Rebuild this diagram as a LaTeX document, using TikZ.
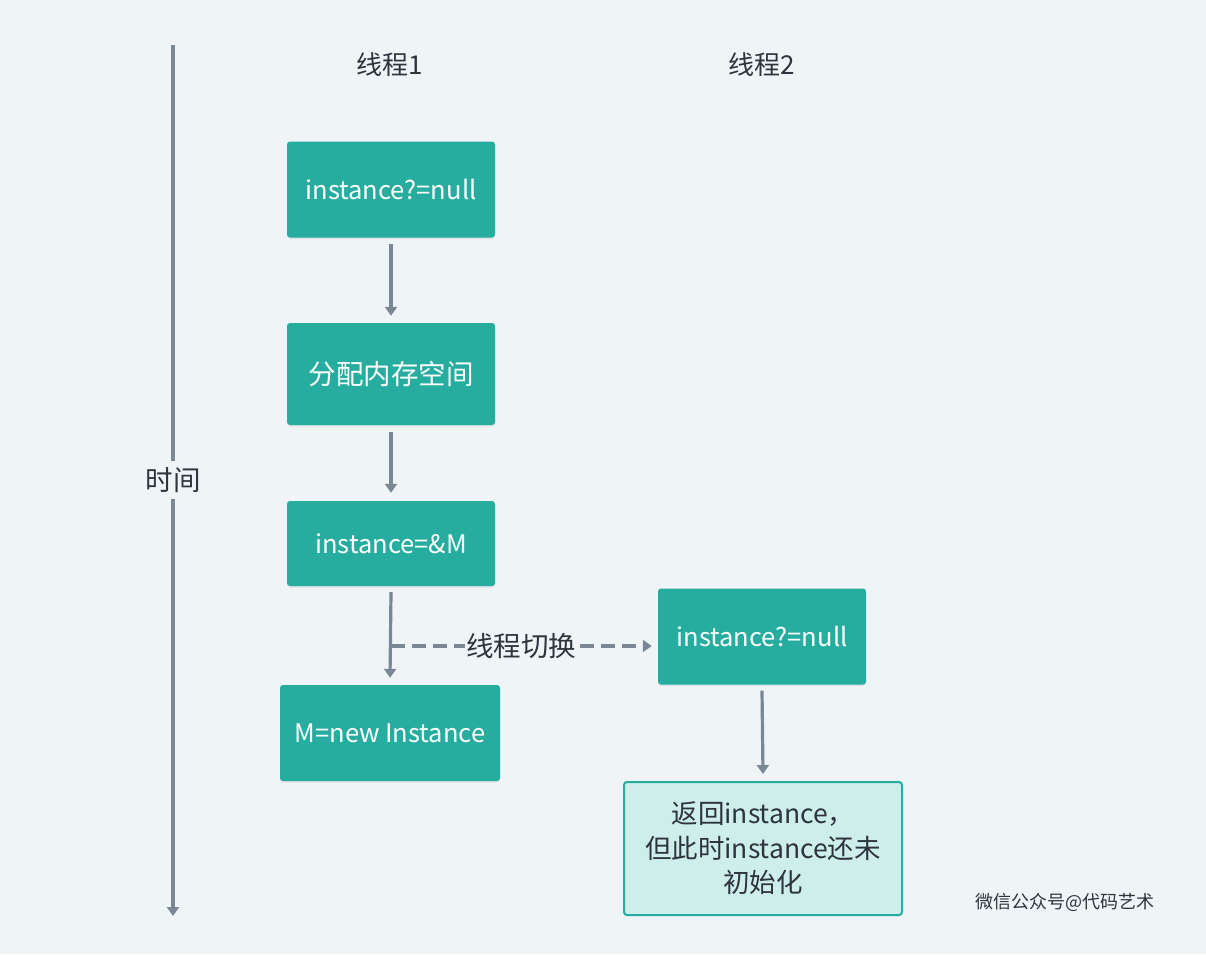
\documentclass[tikz,border=0pt]{standalone}
\usepackage{fontspec}
\setmainfont{Noto Sans CJK SC}
\usetikzlibrary{arrows.meta,shadows}
\definecolor{bg}{RGB}{239,244,247}
\definecolor{teal}{RGB}{38,173,159}
\definecolor{lightteal}{RGB}{206,238,236}
\definecolor{gline}{RGB}{122,136,150}
\definecolor{txt}{RGB}{45,52,60}
\tikzset{
  box/.style={draw=none,fill=teal,rounded corners=3pt,text=white,font=\fontsize{25.5}{30}\selectfont,inner sep=0pt,minimum width=208pt,minimum height=96pt,drop shadow={shadow xshift=0pt,shadow yshift=-1.5pt,opacity=0.15}},
  resbox/.style={draw=teal,line width=2pt,fill=lightteal,rounded corners=3pt,text=txt,font=\fontsize{26.5}{34.5}\selectfont,align=center,inner sep=0pt,minimum width=278pt,minimum height=133pt},
  conn/.style={draw=gline,line width=3.2pt,-{Triangle[width=12pt,length=9pt]}},
  dconn/.style={draw=gline,line width=3.2pt,dash pattern=on 14pt off 7pt,-{Triangle[width=12pt,length=9pt]}},
  lbl/.style={text=txt,font=\fontsize{26}{30}\selectfont,inner sep=0pt},
}
\begin{document}
\begin{tikzpicture}[x=1pt,y=-1pt]
\fill[bg] (0,0) rectangle (1206,954);
\useasboundingbox (0,0) rectangle (1206,954);
% time axis
\node[lbl,font=\fontsize{27.5}{30}\selectfont] (time) at (173,480) {时间};
\coordinate (ttop) at (173,45);
\coordinate (tbot) at (173,916);
\draw[gline,line width=3.2pt] (ttop) -- (173,461);
\draw[conn] (173,499) -- (tbot);
% headers
\node[lbl] (t1) at (390,65) {线程1};
\node[lbl] (t2) at (762,65) {线程2};
% boxes
\node[box] (b1) at (391,189.5) {instance?=null};
\node[box,minimum height=102pt,font=\fontsize{27.5}{30}\selectfont] (b2) at (391,374) {分配内存空间};
\node[box,minimum height=85pt] (b3) at (391,543.5) {instance=\&M};
\node[box,minimum width=220pt] (b4) at (390,733) {M=new Instance};
\node[box] (b5) at (762,636.5) {instance?=null};
\node[resbox] (b6) at (763,848.5) {返回instance，\\但此时instance还未\\初始化};
% arrows
\draw[conn] ([yshift=-6pt]b1.south) -- ([yshift=7pt]b2.north);
\draw[conn] ([yshift=-7pt]b2.south) -- ([yshift=8pt]b3.north);
\draw[conn] ([yshift=-6pt]b3.south) -- ([yshift=7pt]b4.north);
\draw[conn] ([yshift=-6pt]b5.south) -- ([yshift=7pt]b6.north);
% thread switch
\coordinate (sw) at (391,646);
\draw[dconn] (sw) -- node[lbl,fill=bg,inner xsep=1pt,font=\fontsize{27.5}{30}\selectfont,pos=0.5] (swl) {线程切换} ([xshift=-6pt]b5.west |- sw);
% watermark
\node[text=txt,font=\fontsize{18}{20}\selectfont,inner sep=0pt] (wm) at (1065,902) {微信公众号@代码艺术};
\end{tikzpicture}
\end{document}
